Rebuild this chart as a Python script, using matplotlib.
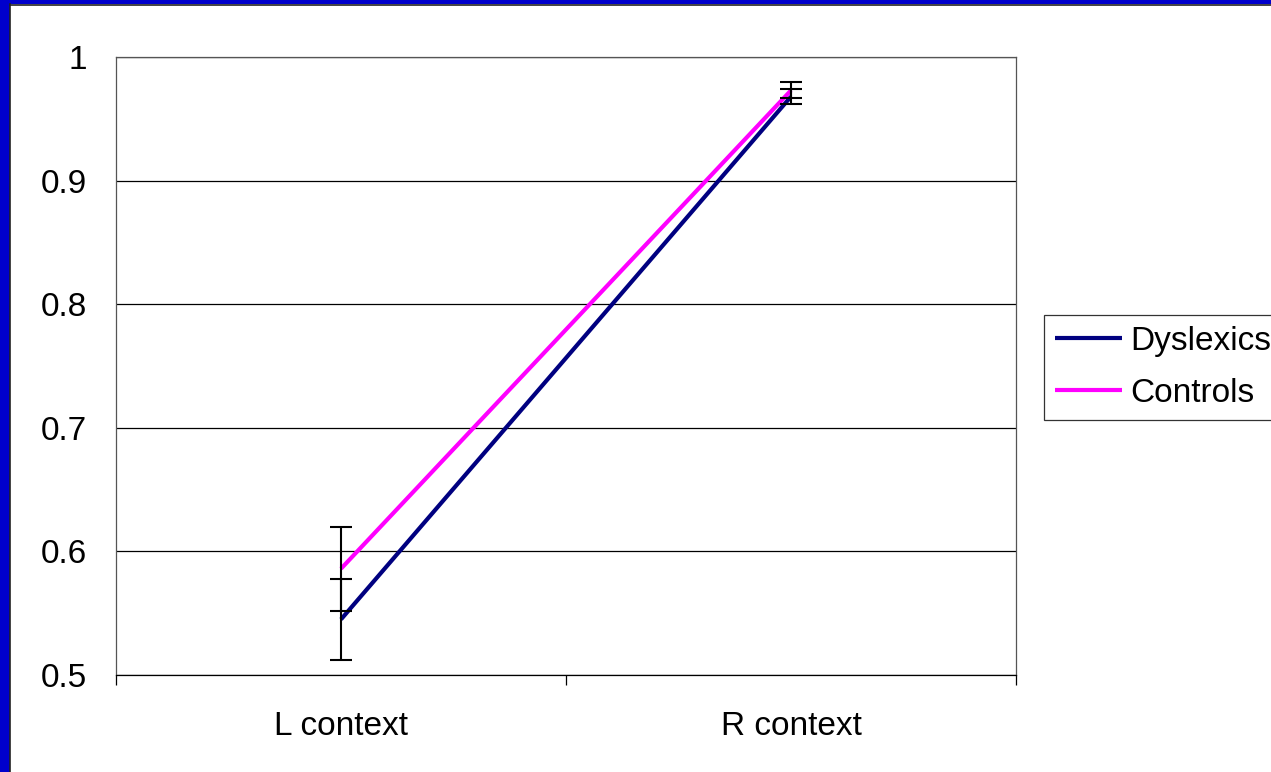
import matplotlib
matplotlib.use("Agg")
import matplotlib.pyplot as plt
from matplotlib.patches import Rectangle
from matplotlib.lines import Line2D

categories = ["L context", "R context"]
dyslexics = [0.545, 0.968]
dyslexics_err = [0.033, 0.006]
controls = [0.586, 0.973]
controls_err = [0.034, 0.0065]
series_names = ["Dyslexics", "Controls"]
y_ticks = [0.5, 0.6, 0.7, 0.8, 0.9, 1.0]
y_tick_labels = ["0.5", "0.6", "0.7", "0.8", "0.9", "1"]

plt.rcParams["font.family"] = ["Liberation Sans", "DejaVu Sans"]

W, H = 1271, 772
fig = plt.figure(figsize=(W / 100, H / 100), dpi=100)
fig.patch.set_facecolor("white")

# slide-style blue frame on the left and top edges
blue = "#0000CC"
fig.patches.append(Rectangle((0, 0), 10 / W, 1, transform=fig.transFigure,
                             facecolor=blue, edgecolor="none", zorder=0))
fig.patches.append(Rectangle((0, 1 - 4 / H), 1, 4 / H, transform=fig.transFigure,
                             facecolor=blue, edgecolor="none", zorder=0))
fig.lines.append(Line2D([10 / W, 10 / W], [0, 1 - 4 / H], transform=fig.transFigure,
                        color="#222222", lw=1.2))
fig.lines.append(Line2D([10 / W, 1], [1 - 4.5 / H, 1 - 4.5 / H], transform=fig.transFigure,
                        color="#222222", lw=1.2))

left, right, top, bottom = 116, 1016, 57, 675
ax = fig.add_axes([left / W, 1 - bottom / H, (right - left) / W, (bottom - top) / H])
ax.set_facecolor("white")

x = [1, 2]
ax.plot(x, dyslexics, color="#000080", lw=3, solid_capstyle="butt", zorder=3,
        label=series_names[0])
ax.plot(x, controls, color="#FF00FF", lw=3, solid_capstyle="butt", zorder=3,
        label=series_names[1])
ax.errorbar(x, dyslexics, yerr=dyslexics_err, fmt="none", ecolor="black",
            elinewidth=1.5, capsize=8, capthick=1.5, zorder=4)
ax.errorbar(x, controls, yerr=controls_err, fmt="none", ecolor="black",
            elinewidth=1.5, capsize=8, capthick=1.5, zorder=4)

ax.set_xlim(0.5, 2.5)
ax.set_ylim(0.5, 1.0)
ax.set_yticks(y_ticks)
ax.set_yticklabels(y_tick_labels, fontsize=24)
ax.yaxis.grid(True, color="black", lw=0.9)
ax.set_axisbelow(True)
ax.tick_params(axis="y", length=0, pad=21)

ax.set_xticks(x)
ax.set_xticklabels(categories, fontsize=24)
ax.set_xticks([0.5, 1.5, 2.5], minor=True)
ax.tick_params(axis="x", which="major", length=0, pad=26)
ax.tick_params(axis="x", which="minor", length=7, width=0.9, color="black", direction="out")

for side in ["top", "right", "left"]:
    ax.spines[side].set_color("#555555")
    ax.spines[side].set_linewidth(0.9)
ax.spines["bottom"].set_color("black")
ax.spines["bottom"].set_linewidth(0.9)

leg = fig.legend(loc="upper left", bbox_to_anchor=(1044 / W, 1 - 315 / H),
                 fontsize=24, frameon=True, fancybox=False, edgecolor="#333333",
                 framealpha=1, handlelength=2.0, handletextpad=0.27,
                 borderpad=0.33, labelspacing=0.63, borderaxespad=0)
leg.get_frame().set_linewidth(0.9)

fig.savefig("out.png", dpi=100)
